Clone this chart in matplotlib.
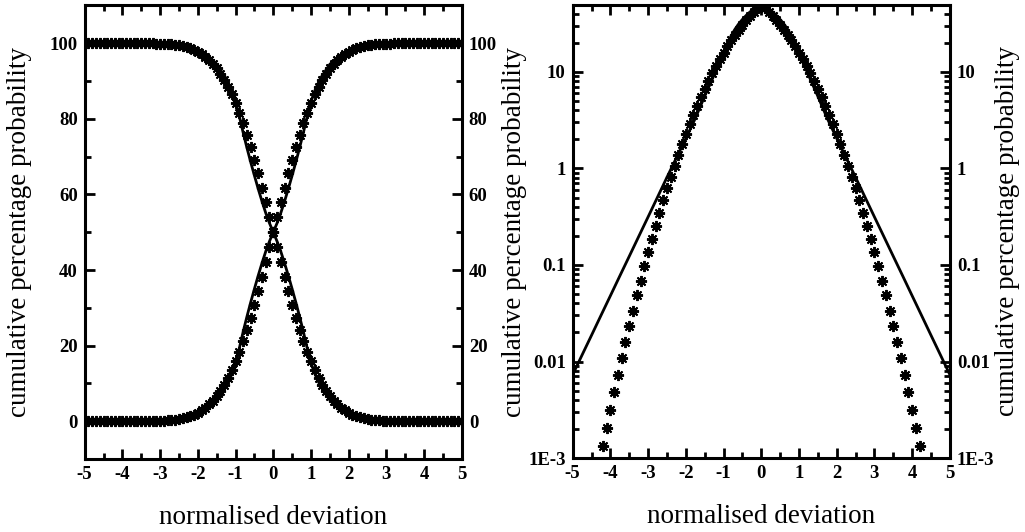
import numpy as np
import matplotlib
matplotlib.use("Agg")
import matplotlib.pyplot as plt
from matplotlib.ticker import MultipleLocator, FixedLocator, FixedFormatter, LogLocator, NullFormatter

plt.rcParams['font.family'] = ['Liberation Serif', 'DejaVu Serif']
plt.rcParams['axes.unicode_minus'] = False

# Stars: cumulative percentage at normalised deviation -5..5 (step 0.1)
x_star = np.round(np.arange(-50, 51) / 10, 1)
cdf_star = [
    0.0000287, 0.0000479, 0.0000793, 0.000130, 0.000211, 0.000340, 0.000541, 0.000854,
    0.001335, 0.00207, 0.00317, 0.00481, 0.00723, 0.01078, 0.01591, 0.02326, 0.03369,
    0.04834, 0.06871, 0.09676, 0.1350, 0.1866, 0.2555, 0.3467, 0.4661, 0.6210, 0.8198,
    1.0724, 1.3903, 1.7864, 2.2750, 2.8717, 3.5930, 4.4565, 5.4799, 6.6807, 8.0757,
    9.6800, 11.507, 13.567, 15.866, 18.406, 21.186, 24.196, 27.425, 30.854, 34.458,
    38.209, 42.074, 46.017, 50.0,
    53.983, 57.926, 61.791, 65.542, 69.146, 72.575, 75.804, 78.814, 81.594, 84.134,
    86.433, 88.493, 90.320, 91.924, 93.319, 94.520, 95.543, 96.407, 97.128, 97.725,
    98.2136, 98.6097, 98.9276, 99.1802, 99.3790, 99.5339, 99.6533, 99.7445, 99.8134,
    99.8650, 99.90324, 99.93129, 99.95166, 99.96631, 99.97674, 99.98409, 99.98922,
    99.99277, 99.99519, 99.99683, 99.99793, 99.998665, 99.999146, 99.999459, 99.99966,
    99.999789, 99.99987, 99.999921, 99.999952, 99.9999713,
]

# Solid line: cumulative percentage
x_line = [-5, -4.75, -4.5, -4.25, -4, -3.75, -3.5, -3.25, -3, -2.75, -2.5, -2.25, -2,
          -1.75, -1.5, -1.25, -1.1, -1, -0.9, -0.8, -0.7, -0.6, -0.5, -0.4, -0.3, -0.2,
          -0.1, 0, 0.1, 0.2, 0.3, 0.4, 0.5, 0.6, 0.7, 0.8, 0.9, 1, 1.1, 1.25, 1.5, 1.75,
          2, 2.25, 2.5, 2.75, 3, 3.25, 3.5, 3.75, 4, 4.25, 4.5, 4.75, 5]
cdf_line = [0.0073, 0.0117, 0.0187, 0.030, 0.048, 0.077, 0.123, 0.197, 0.315, 0.505,
            0.81, 1.29, 2.05, 3.3, 5.6, 9.3, 12.6, 15.5, 19.3, 23.6, 27.6, 31.4, 35.0,
            38.5, 41.8, 44.9, 47.6, 50.0,
            52.4, 55.1, 58.2, 61.5, 65.0, 68.6, 72.4, 76.4, 80.7, 84.5, 87.4, 90.7,
            94.4, 96.7, 97.95, 98.71, 99.19, 99.495, 99.685, 99.803, 99.877, 99.923,
            99.952, 99.970, 99.9813, 99.9883, 99.9927]

x_ticks = [-5, -4, -3, -2, -1, 0, 1, 2, 3, 4, 5]
lin_ticks = [0, 20, 40, 60, 80, 100]
log_ticks = [1e-3, 1e-2, 1e-1, 1, 10]
log_labels = ['1E-3', '0.01', '0.1', '1', '10']

cdf_star = np.array(cdf_star)
cdf_line = np.array(cdf_line)
tail_star = np.minimum(cdf_star, 100 - cdf_star)
tail_line = np.minimum(cdf_line, 100 - cdf_line)

fig = plt.figure(figsize=(10.25, 5.32), dpi=100)
ax1 = fig.add_axes([0.0826, 0.137, 0.368, 0.853])
ax2 = fig.add_axes([0.5587, 0.139, 0.368, 0.851])

star = dict(marker=(8, 2, 0), linestyle='none', color='black', markersize=8, markeredgewidth=1.4)
line = dict(color='black', linewidth=2.0)

ax1.plot(x_star, cdf_star, **star)
ax1.plot(x_star, 100 - cdf_star, **star)
ax1.plot(x_line, cdf_line, **line)
ax1.plot(x_line, 100 - cdf_line, **line)
ax1.set_ylim(-10, 110)
ax1.yaxis.set_major_locator(FixedLocator(lin_ticks))
ax1.yaxis.set_minor_locator(MultipleLocator(10))

ax2.plot(x_star, tail_star, **star)
ax2.plot(x_line, tail_line, **line)
ax2.set_yscale('log')
ax2.set_ylim(1e-3, 49)
ax2.yaxis.set_major_locator(FixedLocator(log_ticks))
ax2.yaxis.set_major_formatter(FixedFormatter(log_labels))
ax2.yaxis.set_minor_locator(LogLocator(base=10, subs=np.arange(2, 10)))
ax2.yaxis.set_minor_formatter(NullFormatter())

for ax in (ax1, ax2):
    ax.set_xlim(-5, 5)
    ax.xaxis.set_major_locator(FixedLocator(x_ticks))
    ax.xaxis.set_minor_locator(MultipleLocator(0.5))
    ax.tick_params(which='both', direction='in', top=True, right=True,
                   labelright=True, width=2)
    ax.tick_params(which='major', length=7, labelsize=13.5, pad=5)
    ax.tick_params(which='minor', length=4)
    for s in ax.spines.values():
        s.set_linewidth(2.2)
    ax.set_xlabel('normalised deviation', fontsize=19.5, labelpad=16)
    ax.set_ylabel('cumulative percentage probability', fontsize=19.5)
    for t in ax.xaxis.get_major_ticks() + ax.yaxis.get_major_ticks():
        t.label1.set_fontweight('bold')
        t.label2.set_fontweight('bold')

ax1.yaxis.set_label_coords(-0.14, 0.5)
ax2.yaxis.set_label_coords(-0.121, 0.5)

# right-hand y label on the log panel
fig.text(1007 / 1025, 0.565, 'cumulative percentage probability', fontsize=19.5,
         rotation=90, ha='center', va='center')

fig.savefig('out.png', dpi=100)
